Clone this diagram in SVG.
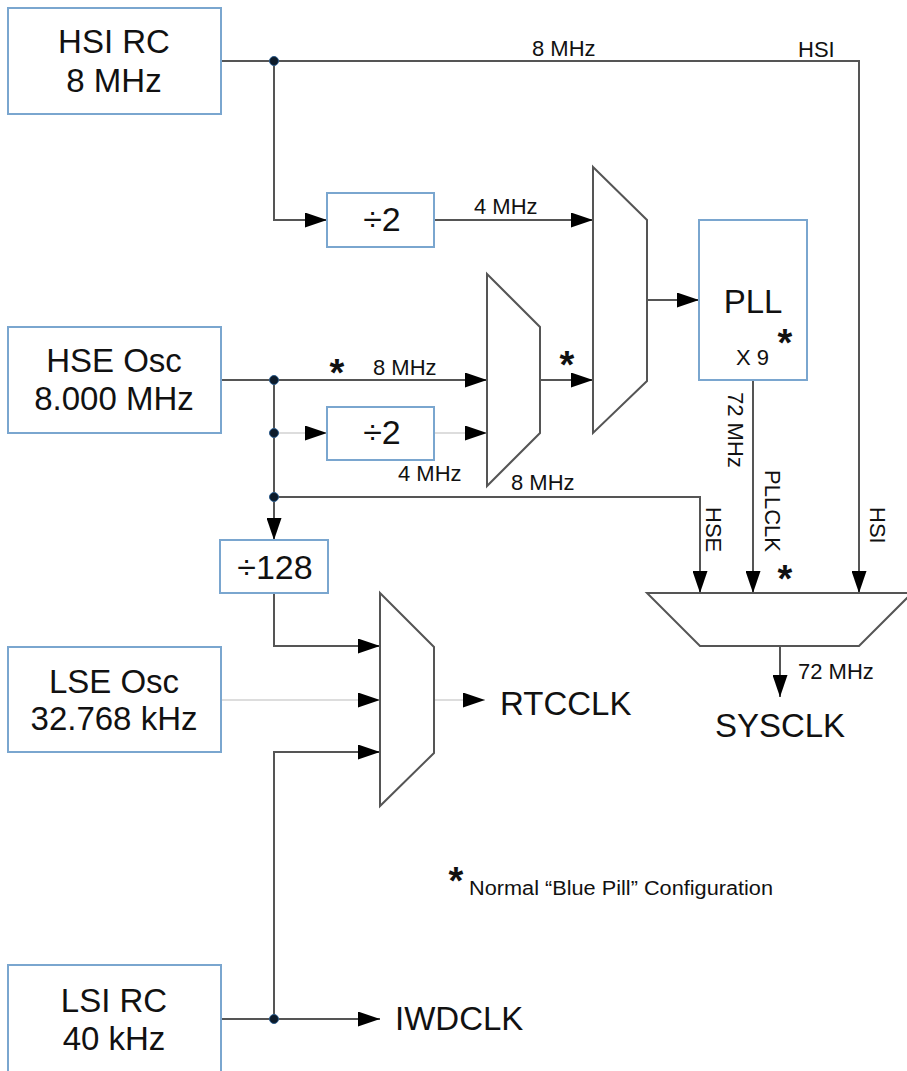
<svg xmlns="http://www.w3.org/2000/svg" width="907" height="1071" viewBox="0 0 907 1071">
<style>
text{font-family:"Liberation Sans",Arial,sans-serif;fill:#111}
.box{fill:#fff;stroke:#7aa6cf;stroke-width:2}
.big{font-size:33px;text-anchor:middle}
.div{font-size:34px;text-anchor:middle}
.lbl{font-size:22px}
.star{font-size:38px;font-weight:bold;text-anchor:middle}
.mux{fill:#fff;stroke:#555;stroke-width:2;stroke-linejoin:miter}
.w{fill:none;stroke:#555;stroke-width:2}
.wl{fill:none;stroke:#ddd;stroke-width:2}
.dot{fill:#0d1b2a;stroke:#2a5a8a;stroke-width:1}
</style>
<defs>
<marker id="ah" markerUnits="userSpaceOnUse" markerWidth="22" markerHeight="15" refX="22" refY="7.5" orient="auto">
<path d="M0,0 L22,7.5 L0,15 z" fill="#000"/>
</marker>
</defs>
<rect width="907" height="1071" fill="#fff"/>

<g id="connectors">
<path class="w" d="M221,61 H859 V593" marker-end="url(#ah)"/>
<path class="w" d="M274,61 V220 H327" marker-end="url(#ah)"/>
<path class="w" d="M434,220 H593" marker-end="url(#ah)"/>
<path class="w" d="M221,380 H487" marker-end="url(#ah)"/>
<path class="wl" d="M274,433 H327" marker-end="url(#ah)"/>
<path class="wl" d="M434,433 H487" marker-end="url(#ah)"/>
<path class="w" d="M274,380 V540" marker-end="url(#ah)"/>
<path class="w" d="M274,497 H700 V593" marker-end="url(#ah)"/>
<path class="w" d="M540,380 H593" marker-end="url(#ah)"/>
<path class="w" d="M647,300 H699" marker-end="url(#ah)"/>
<path class="w" d="M753,380 V593" marker-end="url(#ah)"/>
<path class="w" d="M780,646 V697" marker-end="url(#ah)"/>
<path class="w" d="M274,593 V646 H380" marker-end="url(#ah)"/>
<path class="wl" d="M221,700 H380" marker-end="url(#ah)"/>
<path class="w" d="M274,1019 V752 H380" marker-end="url(#ah)"/>
<path class="w" d="M221,1019 H380" marker-end="url(#ah)"/>
<path class="wl" d="M434,700 H485" marker-end="url(#ah)"/>
<circle class="dot" cx="274" cy="61" r="4.5"/>
<circle class="dot" cx="274" cy="380" r="4.5"/>
<circle class="dot" cx="274" cy="433" r="4.5"/>
<circle class="dot" cx="274" cy="497" r="4.5"/>
<circle class="dot" cx="274" cy="1019" r="4.5"/>
<text class="lbl" x="532" y="56">8 MHz</text>
<text class="lbl" x="798" y="57">HSI</text>
<text class="lbl" x="474" y="214">4 MHz</text>
<text class="lbl" x="373" y="375">8 MHz</text>
<text class="lbl" x="398" y="481">4 MHz</text>
<text class="lbl" x="511" y="490">8 MHz</text>
<text class="lbl" transform="translate(728,392) rotate(90)">72 MHz</text>
<text class="lbl" transform="translate(765,470) rotate(90)">PLLCLK</text>
<text class="lbl" transform="translate(706,507) rotate(90)">HSE</text>
<text class="lbl" transform="translate(870,507) rotate(90)">HSI</text>
<text class="lbl" x="798" y="679">72 MHz</text>
<text class="star" x="337" y="386">*</text>
<text class="star" x="567" y="378">*</text>
<text class="star" x="785" y="592">*</text>
</g>

<g id="hsi"><rect class="box" x="8" y="8" width="213" height="106"/>
<text class="big" x="114" y="53">HSI RC</text><text class="big" x="114" y="92">8 MHz</text></g>
<g id="hse"><rect class="box" x="8" y="327" width="213" height="106"/>
<text class="big" x="114" y="372">HSE Osc</text><text class="big" x="114" y="410">8.000 MHz</text></g>
<g id="lse"><rect class="box" x="8" y="647" width="213" height="105"/>
<text class="big" x="114" y="693">LSE Osc</text><text class="big" x="114" y="730">32.768 kHz</text></g>
<g id="lsi"><rect class="box" x="8" y="965" width="213" height="110"/>
<text class="big" x="114" y="1012">LSI RC</text><text class="big" x="114" y="1050">40 kHz</text></g>
<g id="div2a"><rect class="box" x="327" y="193" width="107" height="54"/>
<text class="div" x="382" y="231">÷2</text></g>
<g id="div2b"><rect class="box" x="327" y="407" width="107" height="53"/>
<text class="div" x="382" y="444">÷2</text></g>
<g id="div128"><rect class="box" x="220" y="540" width="108" height="53"/>
<text class="div" x="275" y="579">÷128</text></g>
<g id="pllmux"><polygon class="mux" points="593,167 647,220 647,381 593,433"/></g>
<g id="hsemux"><polygon class="mux" points="487,274 540,327 540,433 487,486"/></g>
<g id="pll"><rect class="box" x="699" y="220" width="108" height="160"/>
<text class="big" x="753" y="313">PLL</text>
<text class="lbl" x="736" y="365">X 9</text>
<text class="star" x="785" y="356">*</text></g>
<g id="sysmux"><polygon class="mux" points="647,593 912,593 859,646 700,646"/></g>
<g id="rtcmux"><polygon class="mux" points="380,593 434,647 434,753 380,806"/></g>
<g id="rtcclk"><text class="big" x="500" y="715" style="text-anchor:start">RTCCLK</text></g>
<g id="sysclk"><text class="big" x="780" y="737">SYSCLK</text></g>
<g id="iwdclk"><text class="big" x="395" y="1030" style="text-anchor:start">IWDCLK</text></g>
<g id="note"><text class="star" x="456" y="894">*</text>
<text x="469" y="895" font-size="20" textLength="304" lengthAdjust="spacingAndGlyphs">Normal “Blue Pill” Configuration</text></g>
</svg>
